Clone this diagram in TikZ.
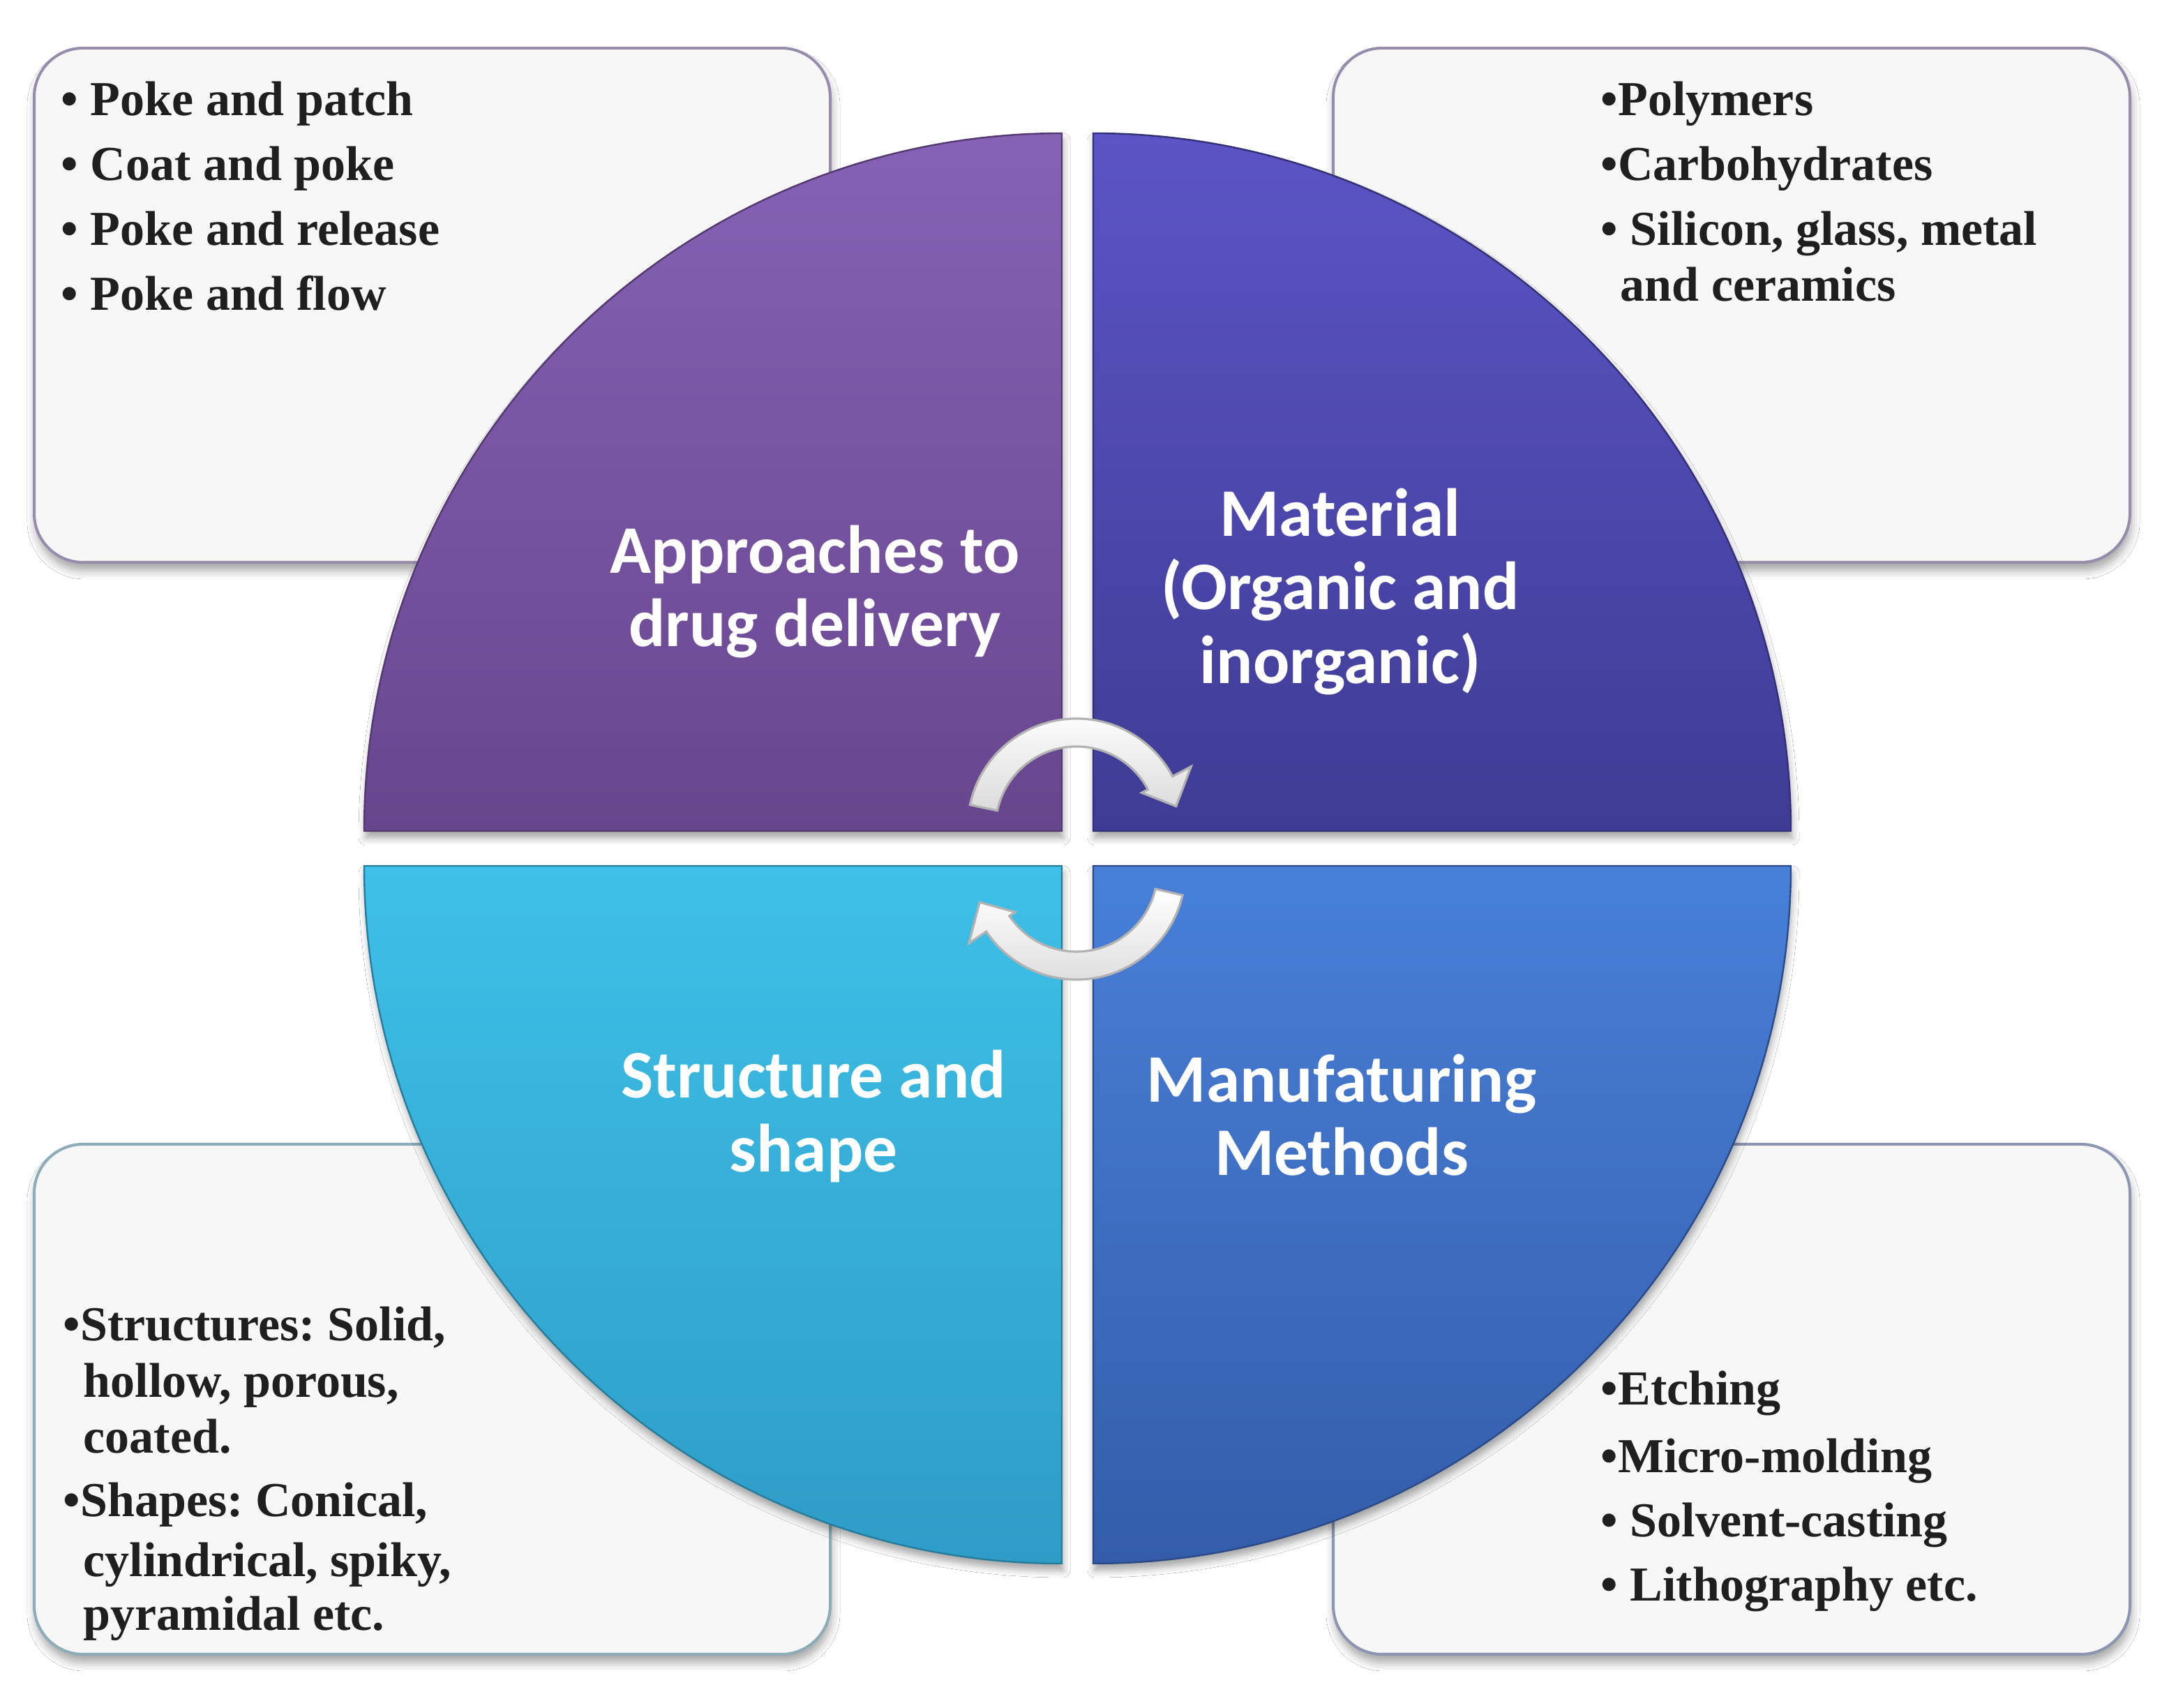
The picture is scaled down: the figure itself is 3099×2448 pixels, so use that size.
\documentclass[tikz,border=0pt]{standalone}
\usepackage{fontspec}
\setmainfont{Liberation Serif}
\newfontfamily\labfont{Carlito}
\usetikzlibrary{shadows.blur}
\definecolor{qTLt}{RGB}{133,98,180}
\definecolor{qTLb}{RGB}{104,70,142}
\definecolor{qTRt}{RGB}{92,84,198}
\definecolor{qTRb}{RGB}{62,60,148}
\definecolor{qBLt}{RGB}{62,192,232}
\definecolor{qBLb}{RGB}{46,156,198}
\definecolor{qBRt}{RGB}{72,128,216}
\definecolor{qBRb}{RGB}{52,92,170}
\definecolor{boxfill}{RGB}{247,247,247}
\definecolor{boxTL}{RGB}{150,140,172}
\definecolor{boxBL}{RGB}{140,172,184}
\definecolor{boxBR}{RGB}{140,150,178}
\frenchspacing
\tikzset{
  boxsty/.style={fill=boxfill, line width=1bp, rounded corners=17.5bp,
    blur shadow={shadow xshift=0.5bp, shadow yshift=-3bp, shadow blur radius=3bp, shadow opacity=35}},
  quadsty/.style={line width=0.6bp,
    blur shadow={shadow xshift=0.5bp, shadow yshift=-2.5bp, shadow blur radius=2.5bp, shadow opacity=35}},
  arrowsty/.style={top color=white, bottom color=gray!28, draw=gray!60, line width=0.8bp},
  boxtext/.style={anchor=west, inner sep=0pt, text height=0.7em, text depth=0.2em,
    font=\fontsize{17.5bp}{21bp}\selectfont\bfseries, text=black!88},
  qlabel/.style={align=center, text=white, inner sep=0pt,
    font=\labfont\bfseries\fontsize{24.4bp}{26.3bp}\selectfont}
}
\begin{document}
\begin{tikzpicture}[x=0.25bp,y=0.25bp]
\useasboundingbox[fill=white] (0,0) rectangle (3099,2448);
% boxes
\draw[boxsty, draw=boxTL] (49,1642) rectangle (1190,2379);
\draw[boxsty, draw=boxTL] (1911,1642) rectangle (3053,2379);
\draw[boxsty, draw=boxBL] (49,77) rectangle (1190,808);
\draw[boxsty, draw=boxBR] (1911,77) rectangle (3053,808);
% quadrants
\shade[quadsty, top color=qTLt, bottom color=qTLb, draw=qTLb!80!black]
  (1522,1257) -- (522,1257) arc[start angle=180, end angle=90, radius=1000] -- cycle;
\shade[quadsty, top color=qTRt, bottom color=qTRb, draw=qTRb!80!black]
  (1567,1257) -- (1567,2257) arc[start angle=90, end angle=0, radius=1000] -- cycle;
\shade[quadsty, top color=qBLt, bottom color=qBLb, draw=qBLb!80!black]
  (1522,1207) -- (522,1207) arc[start angle=180, end angle=270, radius=1000] -- cycle;
\shade[quadsty, top color=qBRt, bottom color=qBRb, draw=qBRb!80!black]
  (1567,1207) -- (2567,1207) arc[start angle=0, end angle=-90, radius=1000] -- cycle;
% cycle arrows
\begin{scope}[shift={(1543,1262)}]
\shade[arrowsty] (168:156) arc[start angle=168, end angle=28, radius=156]
  -- (28:186) -- (12:146) -- (28:106) -- (28:116)
  arc[start angle=28, end angle=168, radius=116] -- cycle;
\end{scope}
\begin{scope}[shift={(1543,1200)}]
\shade[arrowsty] (347:156) arc[start angle=347, end angle=214, radius=156]
  -- (214:186) -- (198:146) -- (214:106) -- (214:116)
  arc[start angle=214, end angle=347, radius=116] -- cycle;
\end{scope}
% quadrant labels
\node[qlabel] (lapp) at (1168,1600) {Approaches to\\drug delivery};
\node[qlabel] (lmat) at (1921,1600) {Material\\(Organic and\\inorganic)};
\node[qlabel] (lstr) at (1166,848) {Structure and\\shape};
\node[qlabel] (lman) at (1923,850) {Manufaturing\\Methods};
% top-left box text
\node[boxtext] (a1) at (87,2292) {•\ Poke and patch};
\node[boxtext] (a2) at (87,2199) {•\ Coat and poke};
\node[boxtext] (a3) at (87,2106) {•\ Poke and release};
\node[boxtext] (a4) at (87,2013) {•\ Poke and flow};
% top-right box text
\node[boxtext] (m1) at (2294,2292) {•Polymers};
\node[boxtext] (m2) at (2294,2199) {•Carbohydrates};
\node[boxtext] (m3) at (2294,2106) {•\ Silicon, glass, metal};
\node[boxtext] (m4) at (2322,2026) {and ceramics};
% bottom-left box text
\node[boxtext] (s1) at (90,536) {•Structures: Solid,};
\node[boxtext] (s2) at (119,455) {hollow, porous,};
\node[boxtext] (s3) at (119,375) {coated.};
\node[boxtext] (s4) at (90,284) {•Shapes: Conical,};
\node[boxtext] (s5) at (119,198) {cylindrical, spiky,};
\node[boxtext] (s6) at (119,121) {pyramidal etc.};
% bottom-right box text
\node[boxtext] (f1) at (2294,444) {•Etching};
\node[boxtext] (f2) at (2294,347) {•Micro-molding};
\node[boxtext] (f3) at (2294,255) {•\ Solvent-casting};
\node[boxtext] (f4) at (2294,163) {•\ Lithography etc.};
\end{tikzpicture}
\end{document}
